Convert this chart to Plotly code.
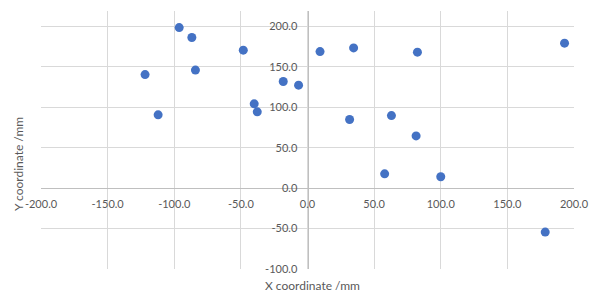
import plotly.graph_objects as go

x_vals = [-96.3, -86.8, -48.2, -121.9, -84.1, -18.2, -6.7, -40.0, -37.7, -112.1,
          9.4, 34.6, 82.5, 192.9, 31.6, 63.0, 81.5, 57.9, 100.0, 178.4]
y_vals = [198.5, 186.2, 170.6, 140.4, 145.9, 131.8, 127.3, 104.2, 94.3, 90.6,
          168.8, 173.4, 168.1, 179.2, 84.8, 89.7, 64.6, 17.7, 14.0, -54.4]

x_ticks = [-200, -150, -100, -50, 0, 50, 100, 150, 200]
y_ticks = [-100, -50, 0, 50, 100, 150, 200]
x_title = "X coordinate /mm"
y_title = "Y coordinate /mm"

x_range = [-200, 200]
y_range = [-100, 219]

grid = "#d9d9d9"
axis_line = "#bfbfbf"
tick_color = "#595959"
font_family = "Lato, Carlito, Calibri, sans-serif"

fig = go.Figure()
fig.add_trace(go.Scatter(
    x=x_vals, y=y_vals, mode="markers",
    marker=dict(size=9, color="#4472C4", line=dict(width=0)),
    showlegend=False, hoverinfo="x+y",
))

y0_frac = (0 - y_range[0]) / (y_range[1] - y_range[0])
x0_frac = (0 - x_range[0]) / (x_range[1] - x_range[0])

# page body has an 8px default margin, so the figure is sized/offset to compensate
fig.update_layout(
    width=590, height=287,
    margin=dict(l=33, r=24, t=3, b=26),
    paper_bgcolor="white", plot_bgcolor="white",
    font=dict(family=font_family, size=11, color=tick_color),
    xaxis=dict(
        range=x_range, tickvals=x_ticks,
        ticktext=[f"{v:.1f}" for v in x_ticks],
        showgrid=True, gridcolor=grid, gridwidth=1,
        zeroline=False, showline=True, linecolor=axis_line, linewidth=1,
        anchor="free", position=y0_frac, ticks="", automargin=False,
        ticklabelstandoff=6,
        tickfont=dict(size=11, color=tick_color),
    ),
    yaxis=dict(
        range=y_range, tickvals=y_ticks,
        ticktext=[f"{v:.1f}" for v in y_ticks],
        showgrid=True, gridcolor=grid, gridwidth=1,
        zeroline=False, showline=True, linecolor=axis_line, linewidth=1,
        anchor="free", position=x0_frac, ticks="", automargin=False,
        ticklabelstandoff=8,
        tickfont=dict(size=11, color=tick_color),
    ),
    annotations=[
        dict(text=x_title, xref="paper", yref="paper", x=0.5, y=0,
             xshift=5, yshift=-16, showarrow=False, yanchor="middle",
             font=dict(size=12, color=tick_color, family=font_family)),
        dict(text=y_title, xref="paper", yref="paper", x=0, y=0.5,
             xshift=-23, yshift=-24, showarrow=False, textangle=-90,
             xanchor="center", yanchor="middle",
             font=dict(size=12, color=tick_color, family=font_family)),
    ],
)

fig.write_html("out.html")
